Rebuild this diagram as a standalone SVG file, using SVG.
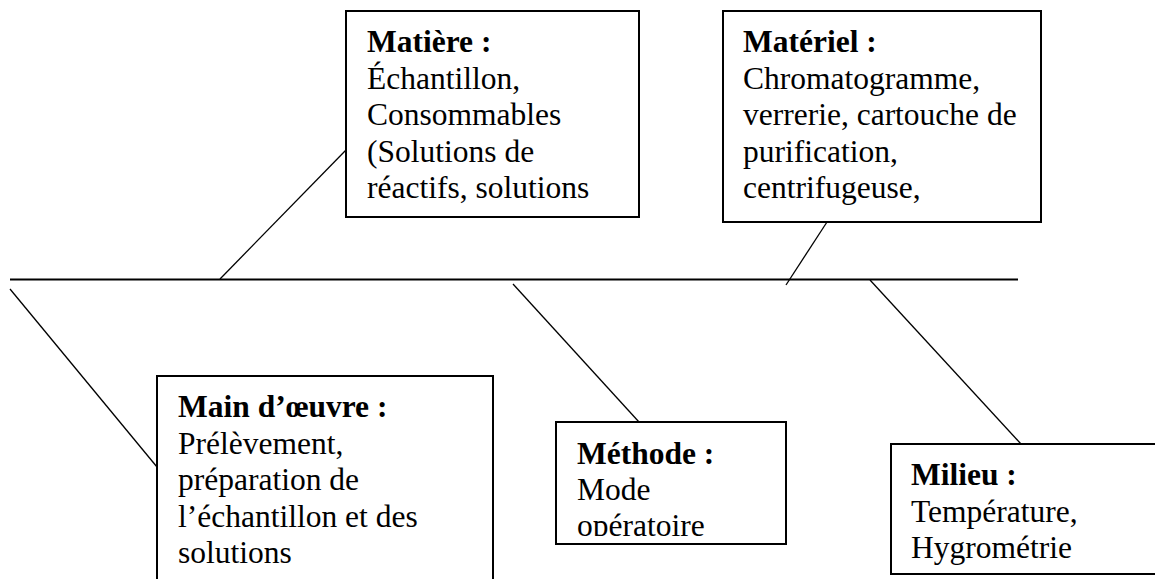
<svg xmlns="http://www.w3.org/2000/svg" width="1155" height="579" viewBox="0 0 1155 579">
<style>
.box{fill:#fff;stroke:#000;stroke-width:2}
.t{font-family:"Liberation Serif","Times New Roman",serif;font-size:31.5px;fill:#000}
.b{font-weight:bold}
.ln{stroke:#000;stroke-width:1.3;fill:none}
.spine{stroke:#000;stroke-width:2;fill:none}
</style>
<defs>
<clipPath id="clipMethode"><rect x="556" y="422" width="230" height="114"/></clipPath>
</defs>
<rect x="0" y="0" width="1155" height="579" fill="#fff"/>
<g id="connectors">
<line class="spine" x1="10" y1="279.5" x2="1018" y2="279.5"/>
<line class="ln" x1="220" y1="279" x2="346" y2="150"/>
<line class="ln" x1="827" y1="222" x2="786" y2="285"/>
<line class="ln" x1="10" y1="289" x2="157" y2="467"/>
<line class="ln" x1="513" y1="284" x2="639" y2="422"/>
<line class="ln" x1="870" y1="280" x2="1021" y2="444"/>
</g>
<g id="matiere">
<rect class="box" x="346" y="11" width="293" height="206"/>
<text class="t"><tspan class="b" x="367" y="52">Matière :</tspan><tspan x="367" y="88.5">Échantillon,</tspan><tspan x="367" y="125">Consommables</tspan><tspan x="367" y="161.5">(Solutions de</tspan><tspan x="367" y="198">réactifs, solutions</tspan></text>
</g>
<g id="materiel">
<rect class="box" x="723" y="11" width="318" height="211"/>
<text class="t"><tspan class="b" x="743" y="52">Matériel :</tspan><tspan x="743" y="88.5">Chromatogramme,</tspan><tspan x="743" y="125">verrerie, cartouche de</tspan><tspan x="743" y="161.5">purification,</tspan><tspan x="743" y="198">centrifugeuse,</tspan></text>
</g>
<g id="main-oeuvre">
<rect class="box" x="157" y="376" width="336" height="215"/>
<text class="t"><tspan class="b" x="178" y="417">Main d’œuvre :</tspan><tspan x="178" y="453.5">Prélèvement,</tspan><tspan x="178" y="490">préparation de</tspan><tspan x="178" y="526.5">l’échantillon et des</tspan><tspan x="178" y="563">solutions</tspan></text>
</g>
<g id="methode">
<rect class="box" x="556" y="422" width="230" height="122"/>
<text class="t" clip-path="url(#clipMethode)"><tspan class="b" x="577" y="464">Méthode :</tspan><tspan x="577" y="500">Mode</tspan><tspan x="577" y="536">opératoire</tspan></text>
</g>
<g id="milieu">
<rect class="box" x="891" y="444" width="280" height="130"/>
<text class="t"><tspan class="b" x="911" y="485">Milieu :</tspan><tspan x="911" y="521.5">Température,</tspan><tspan x="911" y="558">Hygrométrie</tspan></text>
</g>
</svg>
